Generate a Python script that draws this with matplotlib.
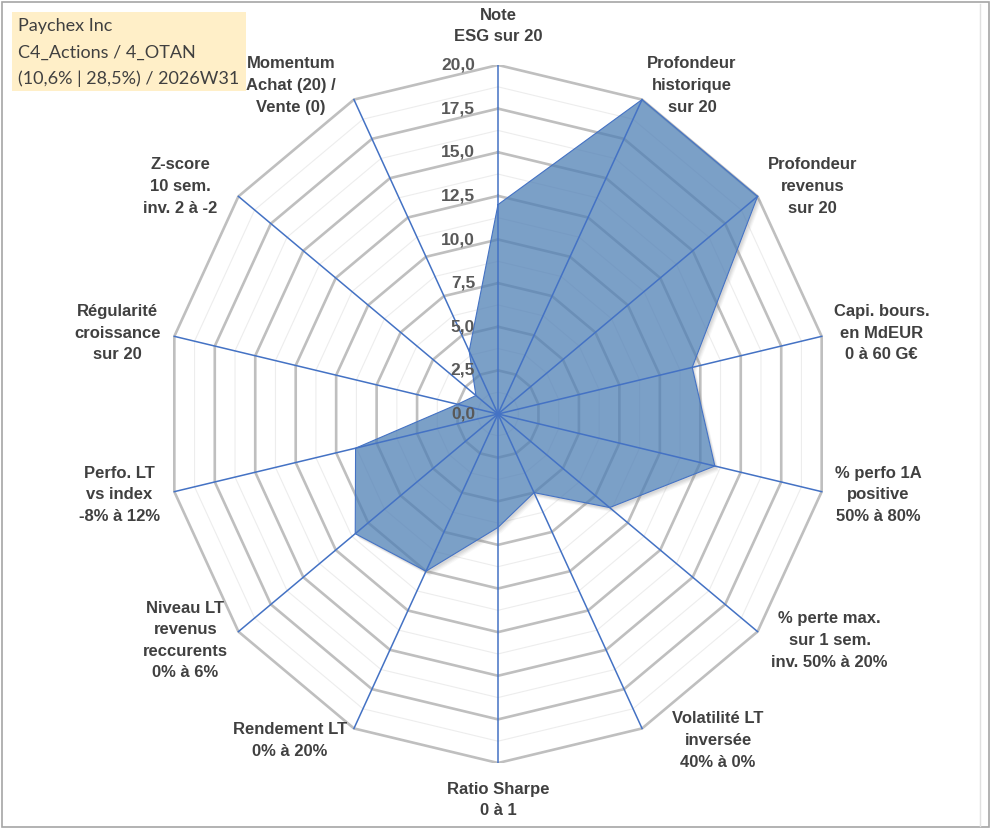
import numpy as np
import matplotlib
matplotlib.use("Agg")
import matplotlib.pyplot as plt
from matplotlib.path import Path
from matplotlib.patches import PathPatch, Rectangle
import matplotlib.transforms as mtransforms

#------------------------------------------------------------------
# Data (scale 0 to 20)
categories = [
    "Note\nESG sur 20",
    "Profondeur\nhistorique\nsur 20",
    "Profondeur\nrevenus\nsur 20",
    "Capi. bours.\nen MdEUR\n0 à 60 G€",
    "% perfo 1A\npositive\n50% à 80%",
    "% perte max.\nsur 1 sem.\ninv. 50% à 20%",
    "Volatilité LT\ninversée\n40% à 0%",
    "Ratio Sharpe\n0 à 1",
    "Rendement LT\n0% à 20%",
    "Niveau LT\nrevenus\nreccurents\n0% à 6%",
    "Perfo. LT\nvs index\n-8% à 12%",
    "Régularité\ncroissance\nsur 20",
    "Z-score\n10 sem.\ninv. 2 à -2",
    "Momentum\nAchat (20) /\nVente (0)",
]
scores = [12.0, 20.0, 20.0, 12.0, 13.4, 8.6, 5.0, 6.5, 10.0, 11.0, 8.8, 2.5, 1.7, 4.0]
rmax = 20.0
tick_values = [0.0, 2.5, 5.0, 7.5, 10.0, 12.5, 15.0, 17.5, 20.0]
title_lines = ["Paychex Inc", "C4_Actions / 4_OTAN", "(10,6% | 28,5%) / 2026W31"]

# label offsets from the outer vertex, in pixels (right, up)
label_offsets = [(0, 39), (50, 14), (55, 10), (60, 3), (57, -3), (72, -9), (76, -12),
                 (0, -37), (-64, -12), (-53, -9), (-55, -3), (-57, 3), (-58, 10), (-63, 14)]

#------------------------------------------------------------------
W, H = 991, 830
fig = plt.figure(figsize=(W / 100, H / 100), dpi=100)
fig.patch.set_facecolor("white")

cx, cy = 498, 414      # centre in pixels (from top-left)
rx, ry = 332, 349      # radius in pixels
ax = fig.add_axes([(cx - rx) / W, (H - cy - ry) / H, 2 * rx / W, 2 * ry / H])
ax.set_xlim(-rmax, rmax)
ax.set_ylim(-rmax, rmax)
ax.axis("off")

n = len(categories)
theta = 2 * np.pi * np.arange(n) / n
sx, cs = np.sin(theta), np.cos(theta)

# polygon grid
levels = np.arange(1.25, rmax + 0.01, 1.25)
for lev in levels:
    xs = np.append(lev * sx, lev * sx[0])
    ys = np.append(lev * cs, lev * cs[0])
    if abs(lev / 2.5 - round(lev / 2.5)) < 1e-6:
        ax.plot(xs, ys, color="#BFBFBF", lw=1.9, zorder=1, solid_joinstyle="miter")
    else:
        ax.plot(xs, ys, color="#EDEDED", lw=0.8, zorder=0.9)

# series polygon
px = np.array(scores) * sx
py = np.array(scores) * cs
poly = np.column_stack([px, py])

# shadow outside the polygon only
rect = [(-30, -30), (30, -30), (30, 30), (-30, 30), (-30, -30)]
verts = rect + [tuple(p) for p in poly] + [tuple(poly[0])]
codes = ([Path.MOVETO] + [Path.LINETO] * 3 + [Path.CLOSEPOLY] +
         [Path.MOVETO] + [Path.LINETO] * (n - 1) + [Path.CLOSEPOLY])
hole = PathPatch(Path(verts, codes), transform=ax.transData)
for k, a in [(5, 0.06), (4, 0.08), (3, 0.10), (2, 0.10)]:
    off = mtransforms.ScaledTranslation(k * 0.8 / 100, -k / 100, fig.dpi_scale_trans)
    sh = ax.fill(px, py, color="#808080", alpha=a, lw=0,
                 transform=ax.transData + off, zorder=1.5)[0]
    sh.set_clip_path(hole)

ax.fill(px, py, color="#4F80B5", alpha=0.75, lw=0, zorder=2)
ax.plot(np.append(px, px[0]), np.append(py, py[0]), color="#4472C4", lw=0.8, zorder=3)

# spokes
for i in range(n):
    ax.plot([0, rmax * sx[i]], [0, rmax * cs[i]], color="#4472C4", lw=1.1, zorder=3)

# value ticks
for v in tick_values:
    ax.annotate(("%.1f" % v).replace(".", ","), xy=(0, v), xytext=(-23, 0),
                textcoords="offset pixels", ha="right", va="center",
                fontsize=12.5, fontweight="bold", color="#595959",
                family="Liberation Sans", zorder=4)

# category labels
for i, lab in enumerate(categories):
    ax.annotate(lab, xy=(rmax * sx[i], rmax * cs[i]), xytext=label_offsets[i],
                textcoords="offset pixels", ha="center", va="center",
                multialignment="center", linespacing=1.55,
                fontsize=12.0, fontweight="bold", color="#404040",
                family="Liberation Sans", annotation_clip=False, zorder=4)

# title box
fig.patches.append(Rectangle((12 / W, 1 - 91 / H), 234 / W, 79 / H, transform=fig.transFigure,
                             facecolor="#FFEFC8", edgecolor="none", zorder=0))
for k, t in enumerate(title_lines):
    fig.text(18 / W, 1 - (26 + 26.5 * k) / H, t, ha="left", va="center",
             fontsize=13, color="#404040", family="Lato")

# frame
fig.patches.append(Rectangle((2 / W, 3 / H), 987 / W, 825 / H, transform=fig.transFigure,
                             facecolor="none", edgecolor="#A6A6A6", lw=1.2))
fig.lines.append(plt.Line2D([980 / W, 980 / W], [4 / H, 1 - 4 / H], transform=fig.transFigure,
                            color="#E0E0E0", lw=1))

fig.savefig("out.png", dpi=100)
